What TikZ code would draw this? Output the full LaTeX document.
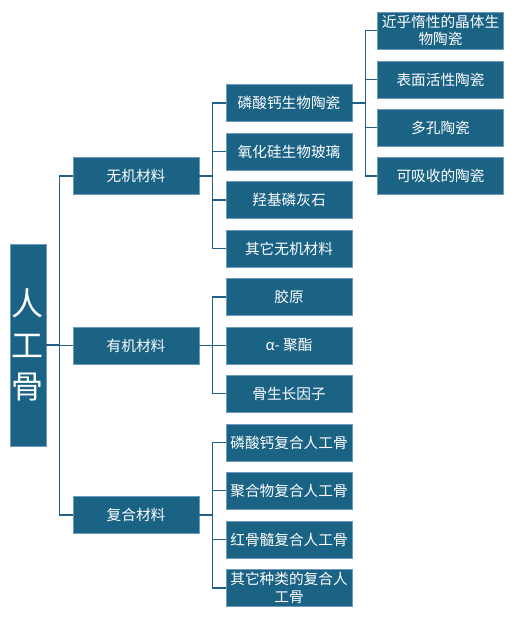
\documentclass[tikz,border=0pt]{standalone}
\usepackage{fontspec}
\setmainfont{Noto Sans CJK SC}
\definecolor{boxblue}{RGB}{27,99,133}
\definecolor{boxedge}{RGB}{110,155,185}
\definecolor{linkblue}{RGB}{33,96,136}
\begin{document}
\begin{tikzpicture}[x=0.75pt,y=-0.75pt,
    box/.style={draw=boxedge,line width=0.4pt,fill=boxblue,text=white,align=center,inner sep=0pt,
      minimum width=94.5pt,minimum height=27.75pt,font=\fontsize{11}{13}\selectfont},
    link/.style={draw=linkblue,line width=1.1pt}]
  \useasboundingbox (0,0) rectangle (514,617);
  % root
  \node[box,minimum width=27pt,minimum height=151.5pt,font=\fontsize{24}{31}\selectfont] (r) at (28,345) {人\\工\\骨};
  % first level
  \node[box] (wj) at (136,176) {无机材料};
  \node[box] (yj) at (136,345.5) {有机材料};
  \node[box] (fh) at (136,515) {复合材料};
  % second level
  \node[box] (wj1) at (289,103) {磷酸钙生物陶瓷};
  \node[box] (wj2) at (289,151.5) {氧化硅生物玻璃};
  \node[box] (wj3) at (289,200) {羟基磷灰石};
  \node[box] (wj4) at (289,248.5) {其它无机材料};
  \node[box] (yj1) at (289,297) {胶原};
  \node[box] (yj2) at (289,345.5) {α- 聚酯};
  \node[box] (yj3) at (289,393.5) {骨生长因子};
  \node[box] (fh1) at (289,442.5) {磷酸钙复合人工骨};
  \node[box] (fh2) at (289,490.5) {聚合物复合人工骨};
  \node[box] (fh3) at (289,539.5) {红骨髓复合人工骨};
  \node[box] (fh4) at (289,588) {其它种类的复合人\\工骨};
  % third level
  \node[box] (tc1) at (440.5,30.5) {近乎惰性的晶体生\\物陶瓷};
  \node[box] (tc2) at (440.5,79.5) {表面活性陶瓷};
  \node[box] (tc3) at (440.5,127.5) {多孔陶瓷};
  \node[box] (tc4) at (440.5,176) {可吸收的陶瓷};
  % connectors
  \foreach \a in {wj,yj,fh}
    \draw[link] (r.east) -- ++(13,0) |- (\a.west);
  \foreach \a in {wj1,wj2,wj3,wj4}
    \draw[link] (wj.east) -- ++(13,0) |- (\a.west);
  \foreach \a in {yj1,yj2,yj3}
    \draw[link] (yj.east) -- ++(13,0) |- (\a.west);
  \foreach \a in {fh1,fh2,fh3,fh4}
    \draw[link] (fh.east) -- ++(13,0) |- (\a.west);
  \foreach \a in {tc1,tc2,tc3,tc4}
    \draw[link] (wj1.east) -- ++(13,0) |- (\a.west);
\end{tikzpicture}
\end{document}
